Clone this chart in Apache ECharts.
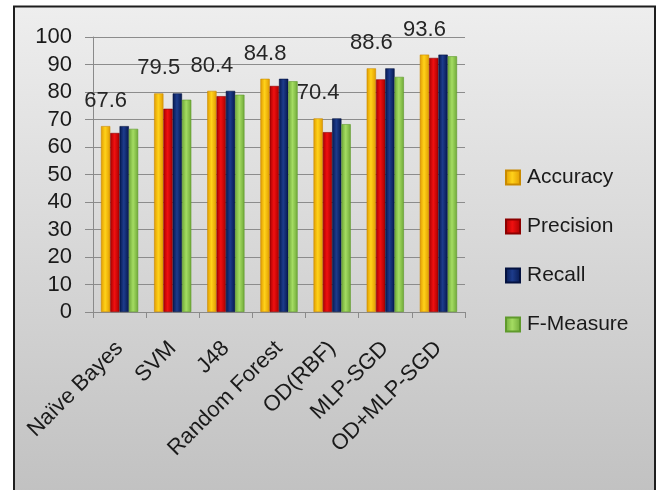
<!DOCTYPE html>
<html>
<head>
<meta charset="utf-8">
<script src="https://cdn.jsdelivr.net/npm/echarts@6/dist/echarts.min.js"></script>
<style>
  html, body { margin: 0; padding: 0; background: #ffffff; }
  #chart { width: 657px; height: 490px; }
</style>
</head>
<body>
<div id="chart"></div>
<script>
// Classifier names along the x axis
const categories = ['Naïve Bayes', 'SVM', 'J48', 'Random Forest', 'OD(RBF)', 'MLP-SGD', 'OD+MLP-SGD'];

// Scores (%) per metric
const accuracy  = [67.6, 79.5, 80.4, 84.8, 70.4, 88.6, 93.6];
const precision = [65.1, 73.9, 78.5, 82.2, 65.4, 84.6, 92.4];
const recall    = [67.6, 79.5, 80.4, 84.8, 70.4, 88.6, 93.6];
const fMeasure  = [66.6, 77.2, 79.0, 83.9, 68.3, 85.5, 93.0];

// Y axis tick values
const yTicks = [0, 10, 20, 30, 40, 50, 60, 70, 80, 90, 100];

const FONT = '"Liberation Sans", Arial, sans-serif';

// Horizontal bevel gradient: dark edges, bright middle
function bevel(edge, mid) {
  return new echarts.graphic.LinearGradient(0, 0, 1, 0, [
    { offset: 0, color: edge },
    { offset: 0.45, color: mid },
    { offset: 1, color: edge }
  ]);
}

const palette = [
  { name: 'Accuracy',  data: accuracy,  fill: bevel('#e09a00', '#ffd21a'), border: '#c98a00' },
  { name: 'Precision', data: precision, fill: bevel('#a80000', '#f01010'), border: '#8c0000' },
  { name: 'Recall',    data: recall,    fill: bevel('#06184f', '#1d3c8c'), border: '#041240' },
  { name: 'F-Measure', data: fMeasure,  fill: bevel('#6fa838', '#a4dc62'), border: '#5f9a2c' }
];

const chart = echarts.init(document.getElementById('chart'), null, { renderer: 'canvas' });

const series = palette.map((p, i) => ({
  name: p.name,
  type: 'bar',
  data: p.data,
  barWidth: 9.3,
  barGap: '0%',
  itemStyle: { color: p.fill, borderColor: p.border, borderWidth: 0.6 },
  label: i === 0 ? {
    show: true,
    position: 'top',
    distance: 14,
    fontFamily: FONT,
    fontSize: 22,
    color: '#262626',
    formatter: (d) => d.value.toFixed(1)
  } : { show: false }
}));

chart.setOption({
  backgroundColor: '#ffffff',
  animation: false,
  graphic: [{
    type: 'rect',
    z: -10,
    silent: true,
    shape: { x: 14, y: 6.5, width: 641, height: 500 },
    style: {
      fill: new echarts.graphic.LinearGradient(0, 0, 0, 1, [
        { offset: 0, color: '#eeeeee' },
        { offset: 1, color: '#c0c0c0' }
      ]),
      stroke: '#1e1e1e',
      lineWidth: 2
    }
  }],
  legend: {
    orient: 'vertical',
    left: 505,
    top: 167,
    padding: 0,
    itemWidth: 14,
    itemHeight: 14,
    itemGap: 28,
    icon: 'rect',
    textStyle: { fontFamily: FONT, fontSize: 21, color: '#1a1a1a', padding: [0, 0, 0, 2] },
    data: palette.map(p => p.name)
  },
  grid: { left: 93, right: 192, top: 37, bottom: 178, containLabel: false },
  xAxis: {
    type: 'category',
    data: categories,
    axisLine: { lineStyle: { color: '#8a8a8a', width: 1 } },
    axisTick: { show: true, alignWithLabel: false, length: 6, lineStyle: { color: '#8a8a8a' } },
    axisLabel: {
      rotate: 45,
      interval: 0,
      margin: 33,
      fontFamily: FONT,
      fontSize: 22,
      color: '#1a1a1a'
    }
  },
  yAxis: {
    type: 'value',
    min: yTicks[0],
    max: yTicks[yTicks.length - 1],
    interval: 10,
    axisLine: { show: true, lineStyle: { color: '#8a8a8a', width: 1 } },
    axisTick: { show: true, inside: false, length: 8, lineStyle: { color: '#8a8a8a' } },
    splitLine: { show: true, lineStyle: { color: '#8c8c8c', width: 1 } },
    axisLabel: {
      margin: 21,
      fontFamily: FONT,
      fontSize: 22,
      color: '#1a1a1a',
      formatter: (v) => yTicks.includes(v) ? String(v) : ''
    }
  },
  series: series
});
</script>
</body>
</html>
